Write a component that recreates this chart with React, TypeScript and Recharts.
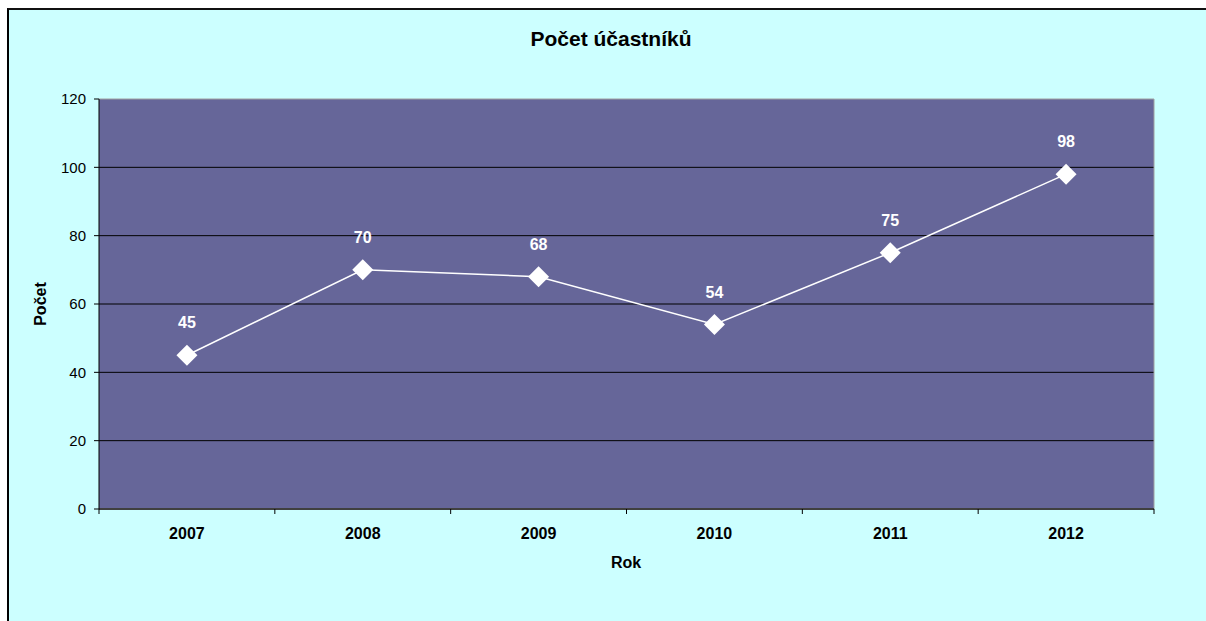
import React from 'react'
import { LineChart, Line, XAxis, YAxis, CartesianGrid, ReferenceLine, LabelList } from 'recharts'

const years = ['2007', '2008', '2009', '2010', '2011', '2012']
const counts = [45, 70, 68, 54, 75, 98]
const yTicks = [0, 20, 40, 60, 80, 100, 120]

// points sit in the middle of each year band, ticks on the band edges
const data = years.map((year, i) => ({ pos: i + 0.5, year, count: counts[i] }))
const xTicks = years.flatMap((_, i) => [i, i + 0.5]).concat(years.length)

const font = '"Liberation Sans", Arial, sans-serif'

function YearTick(props: any) {
  const { x, y, payload } = props
  const v = payload.value as number
  if (Number.isInteger(v)) {
    return <line x1={x} x2={x} y1={y} y2={y + 5} stroke="#000" strokeWidth={1} />
  }
  return (
    <text x={x} y={y + 30} textAnchor="middle" fontFamily={font} fontSize={16} fontWeight="bold" fill="#000">
      {years[Math.floor(v)]}
    </text>
  )
}

function Diamond(props: any) {
  const { cx, cy, index } = props
  const r = 10.5
  return (
    <polygon
      key={index}
      points={`${cx},${cy - r} ${cx + r},${cy} ${cx},${cy + r} ${cx - r},${cy}`}
      fill="#fff"
    />
  )
}

export default function App() {
  return (
    <div style={{ position: 'absolute', left: 0, top: 0, width: 1206, height: 621, background: '#fff', overflow: 'hidden' }}>
      <div
        style={{
          position: 'absolute',
          left: 7,
          top: 8,
          width: 1300,
          height: 700,
          background: '#CCFFFF',
          borderTop: '2px solid #111',
          borderLeft: '2px solid #000',
        }}
      />
      <div
        style={{
          position: 'absolute',
          left: 0,
          top: 28,
          width: 1222,
          textAlign: 'center',
          fontFamily: font,
          fontSize: 21,
          lineHeight: '21px',
          fontWeight: 'bold',
          color: '#000',
        }}
      >
        Počet účastníků
      </div>
      <div style={{ position: 'absolute', left: 0, top: 0 }}>
        <LineChart width={1206} height={621} data={data} margin={{ top: 99, right: 52, bottom: 52, left: 59 }}>
          <CartesianGrid
            vertical={false}
            horizontalValues={[20, 40, 60, 80, 100]}
            stroke="#000"
            strokeOpacity={1}
            fill="#666699"
            fillOpacity={1}
          />
          <ReferenceLine y={120} stroke="#a0a0a0" strokeWidth={1} />
          <ReferenceLine x={6} stroke="#a0a0a0" strokeWidth={1} />
          <XAxis
            dataKey="pos"
            type="number"
            domain={[0, 6]}
            ticks={xTicks}
            interval={0}
            height={60}
            tickSize={0}
            tickMargin={0}
            tickLine={false}
            tick={<YearTick />}
            axisLine={{ stroke: '#404040', strokeWidth: 2 }}
            label={{
              content: () => (
                <text x={626} y={568} textAnchor="middle" fontFamily={font} fontSize={16} fontWeight="bold" fill="#000">
                  Rok
                </text>
              ),
            }}
          />
          <YAxis
            type="number"
            domain={[0, 120]}
            ticks={yTicks}
            interval={0}
            width={40}
            tickSize={5}
            tickMargin={8}
            tick={{ fill: '#000', fontSize: 15, fontFamily: font }}
            tickLine={{ stroke: '#000' }}
            axisLine={{ stroke: '#000' }}
            label={{
              content: () => (
                <text
                  x={46}
                  y={304}
                  transform="rotate(-90 46 304)"
                  textAnchor="middle"
                  fontFamily={font}
                  fontSize={16}
                  fontWeight="bold"
                  fill="#000"
                >
                  Počet
                </text>
              ),
            }}
          />
          <Line
            type="linear"
            dataKey="count"
            stroke="#fff"
            strokeWidth={1.5}
            dot={<Diamond />}
            activeDot={false}
            isAnimationActive={false}
          >
            <LabelList
              dataKey="count"
              position="top"
              offset={27}
              fill="#fff"
              fontSize={16}
              fontWeight="bold"
              fontFamily={font}
            />
          </Line>
        </LineChart>
      </div>
    </div>
  )
}
